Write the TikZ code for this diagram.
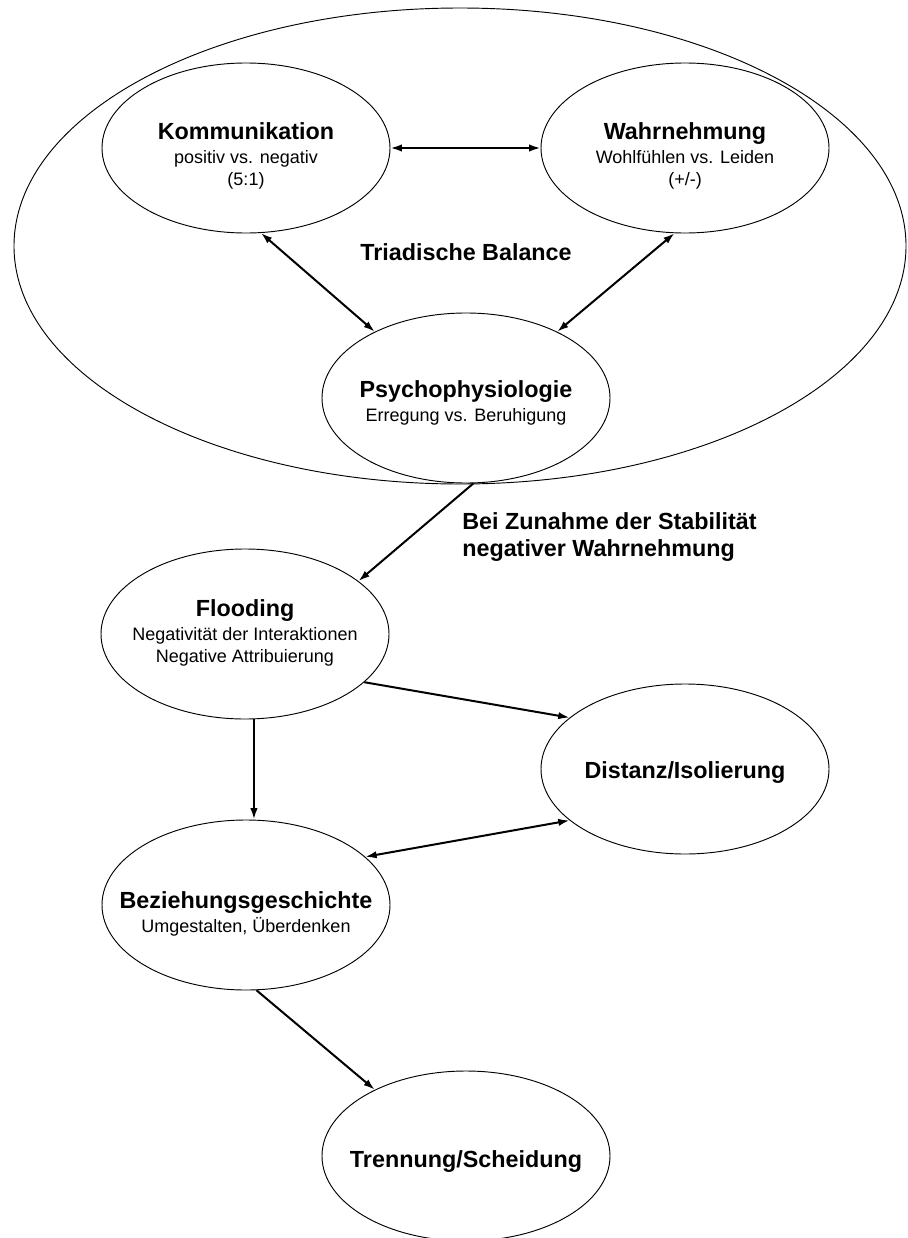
\documentclass[tikz,border=0pt]{standalone}
\usepackage{fontspec}
\setmainfont{Liberation Sans}
\usetikzlibrary{shapes.geometric,arrows.meta}
\newcommand{\titel}[1]{{\bfseries\fontsize{17.5}{18}\selectfont #1}}
\begin{document}
\begin{tikzpicture}[x=0.75pt,y=-0.75pt,
	bubble/.style={draw,ellipse,line width=0.7pt,minimum width=216pt,minimum height=127.5pt,inner sep=0pt},
	txt/.style={align=center,inner sep=0pt,font=\fontsize{13.5}{17}\selectfont},
	arr/.style={line width=1.5pt,-{Latex[length=8.5pt,width=5.5pt]}},
	darr/.style={line width=1.5pt,{Latex[length=8.5pt,width=5.5pt]}-{Latex[length=8.5pt,width=5.5pt]}}]
	\useasboundingbox (0,0) rectangle (907,1238);
	\node[draw,ellipse,line width=0.7pt,minimum width=669pt,minimum height=357pt] (triade) at (460,246) {};
	\node[bubble] (komm) at (246,148) {};
	\node[bubble] (wahr) at (685,148) {};
	\node[bubble] (psy) at (466,398) {};
	\node[bubble] (flood) at (245,634) {};
	\node[bubble] (dist) at (685,769) {};
	\node[bubble] (bez) at (246,905) {};
	\node[bubble] (trenn) at (466,1156) {};
	\node[txt] (komm-t) at (246,156) {\titel{Kommunikation}\\[1pt] positiv vs. negativ\\ (5:1)};
	\node[txt] (wahr-t) at (685,156) {\titel{Wahrnehmung}\\[1pt] Wohlfühlen vs. Leiden\\ (+/-)};
	\node[txt] (psy-t) at (466,403) {\titel{Psychophysiologie}\\[1pt] Erregung vs. Beruhigung};
	\node[txt] (flood-t) at (245,633) {\titel{Flooding}\\[1pt] Negativität der Interaktionen\\ Negative Attribuierung};
	\node[txt] (dist-t) at (685,773) {\titel{Distanz/Isolierung}};
	\node[txt] (bez-t) at (246,914) {\titel{Beziehungsgeschichte}\\[1pt] Umgestalten, Überdenken};
	\node[txt] (trenn-t) at (466,1162) {\titel{Trennung/Scheidung}};
	\node[txt] (balance) at (466,252) {\titel{Triadische Balance}};
	\node[txt,align=left,anchor=west] (stab) at (462,537) {\titel{Bei Zunahme der Stabilität}\\[3pt] \titel{negativer Wahrnehmung}};
	\draw[darr] (komm.east) -- (wahr.west);
	\draw[darr] (komm.-80) -- (psy.144);
	\draw[darr] (wahr.-97) -- (psy.36);
	\draw[arr] (psy.-85) -- (flood.25);
	\draw[arr] (flood.-22) -- (dist.156);
	\draw[arr] (flood.-84) -- (flood.-84 |- bez.north);
	\draw[darr] (bez.22) -- (dist.204);
	\draw[arr] (bez.-83) -- (trenn.144);
\end{tikzpicture}
\end{document}
